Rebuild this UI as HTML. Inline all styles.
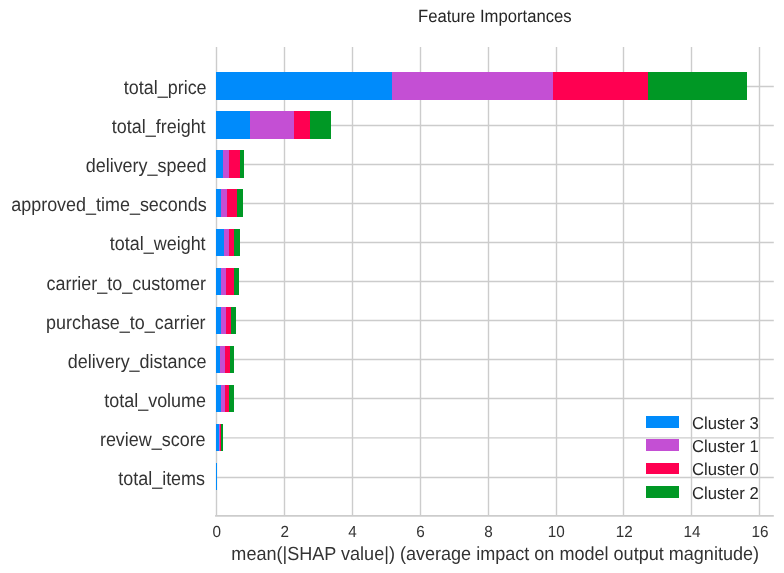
<!DOCTYPE html>
<html lang="en">
<head>
<meta charset="utf-8">
<title>Feature Importances</title>
<style>
html,body{margin:0;padding:0;background:#ffffff;}
body{width:784px;height:573px;overflow:hidden;}
svg{display:block;}
text{font-family:"Liberation Sans",Arial,sans-serif;text-rendering:geometricPrecision;}
.yl{font-size:18.06px;fill:#333333;text-anchor:end;}
.xt{font-size:15.28px;fill:#333333;text-anchor:middle;}
.xl{font-size:18.06px;fill:#333333;text-anchor:middle;}
.tt{font-size:16.67px;fill:#262626;text-anchor:middle;}
.lg{font-size:16.67px;fill:#262626;text-anchor:start;}
</style>
</head>
<body>
<svg width="784" height="573" viewBox="0 0 784 573">
<rect x="0" y="0" width="784" height="573" fill="#ffffff"/>
<g stroke="#cccccc" stroke-width="1.39" fill="none">
<line x1="216.5" y1="47" x2="216.5" y2="516"/>
<line x1="284.5" y1="47" x2="284.5" y2="516"/>
<line x1="352.5" y1="47" x2="352.5" y2="516"/>
<line x1="420.5" y1="47" x2="420.5" y2="516"/>
<line x1="488.5" y1="47" x2="488.5" y2="516"/>
<line x1="556.5" y1="47" x2="556.5" y2="516"/>
<line x1="623.5" y1="47" x2="623.5" y2="516"/>
<line x1="691.5" y1="47" x2="691.5" y2="516"/>
<line x1="759.5" y1="47" x2="759.5" y2="516"/>
<line x1="216" y1="86.5" x2="773.8" y2="86.5"/>
<line x1="216" y1="125.5" x2="773.8" y2="125.5"/>
<line x1="216" y1="164.5" x2="773.8" y2="164.5"/>
<line x1="216" y1="203.5" x2="773.8" y2="203.5"/>
<line x1="216" y1="242.5" x2="773.8" y2="242.5"/>
<line x1="216" y1="281.5" x2="773.8" y2="281.5"/>
<line x1="216" y1="320.5" x2="773.8" y2="320.5"/>
<line x1="216" y1="359.5" x2="773.8" y2="359.5"/>
<line x1="216" y1="398.5" x2="773.8" y2="398.5"/>
<line x1="216" y1="437.9" x2="773.8" y2="437.9"/>
<line x1="216" y1="477.5" x2="773.8" y2="477.5"/>
</g>
<line x1="215.1" y1="515.8" x2="773.8" y2="515.8" stroke="#cccccc" stroke-width="1.74"/>
<g shape-rendering="crispEdges">
<rect x="216" y="72" width="176" height="28" fill="#008bfb"/>
<rect x="392" y="72" width="161" height="28" fill="#c44fd4"/>
<rect x="553" y="72" width="95" height="28" fill="#ff0051"/>
<rect x="648" y="72" width="99" height="28" fill="#009825"/>
<rect x="216" y="111" width="34" height="28" fill="#008bfb"/>
<rect x="250" y="111" width="44" height="28" fill="#c44fd4"/>
<rect x="294" y="111" width="16" height="28" fill="#ff0051"/>
<rect x="310" y="111" width="21" height="28" fill="#009825"/>
<rect x="216" y="150" width="7" height="28" fill="#008bfb"/>
<rect x="223" y="150" width="6" height="28" fill="#c44fd4"/>
<rect x="229" y="150" width="11" height="28" fill="#ff0051"/>
<rect x="240" y="150" width="4" height="28" fill="#009825"/>
<rect x="216" y="189" width="5" height="28" fill="#008bfb"/>
<rect x="221" y="189" width="6" height="28" fill="#c44fd4"/>
<rect x="227" y="189" width="10" height="28" fill="#ff0051"/>
<rect x="237" y="189" width="6" height="28" fill="#009825"/>
<rect x="216" y="229" width="8" height="27" fill="#008bfb"/>
<rect x="224" y="229" width="5" height="27" fill="#c44fd4"/>
<rect x="229" y="229" width="5" height="27" fill="#ff0051"/>
<rect x="234" y="229" width="6" height="27" fill="#009825"/>
<rect x="216" y="268" width="5" height="27" fill="#008bfb"/>
<rect x="221" y="268" width="5" height="27" fill="#c44fd4"/>
<rect x="226" y="268" width="8" height="27" fill="#ff0051"/>
<rect x="234" y="268" width="5" height="27" fill="#009825"/>
<rect x="216" y="307" width="5" height="27" fill="#008bfb"/>
<rect x="221" y="307" width="5" height="27" fill="#c44fd4"/>
<rect x="226" y="307" width="5" height="27" fill="#ff0051"/>
<rect x="231" y="307" width="5" height="27" fill="#009825"/>
<rect x="216" y="346" width="4" height="27" fill="#008bfb"/>
<rect x="220" y="346" width="5" height="27" fill="#c44fd4"/>
<rect x="225" y="346" width="5" height="27" fill="#ff0051"/>
<rect x="230" y="346" width="4" height="27" fill="#009825"/>
<rect x="216" y="385" width="5" height="27" fill="#008bfb"/>
<rect x="221" y="385" width="4" height="27" fill="#c44fd4"/>
<rect x="225" y="385" width="4" height="27" fill="#ff0051"/>
<rect x="229" y="385" width="5" height="27" fill="#009825"/>
<rect x="216" y="424" width="3" height="27" fill="#008bfb"/>
<rect x="219" y="424" width="1" height="27" fill="#c44fd4"/>
<rect x="220" y="424" width="1" height="27" fill="#ff0051"/>
<rect x="221" y="424" width="2" height="27" fill="#009825"/>
<rect x="216" y="463" width="0.8" height="27" fill="#008bfb"/>
</g>
<text class="yl" transform="translate(206.60 94.00) scale(0.994 1.07)">total_price</text>
<text class="yl" transform="translate(205.60 133.00) scale(0.994 1.07)">total_freight</text>
<text class="yl" transform="translate(206.40 172.00) scale(0.994 1.07)">delivery_speed</text>
<text class="yl" transform="translate(206.70 211.00) scale(0.994 1.07)">approved_time_seconds</text>
<text class="yl" transform="translate(205.60 250.00) scale(0.994 1.07)">total_weight</text>
<text class="yl" transform="translate(206.00 290.00) scale(0.994 1.07)">carrier_to_customer</text>
<text class="yl" transform="translate(205.60 329.00) scale(0.994 1.07)">purchase_to_carrier</text>
<text class="yl" transform="translate(206.40 368.00) scale(0.994 1.07)">delivery_distance</text>
<text class="yl" transform="translate(206.00 407.00) scale(0.994 1.07)">total_volume</text>
<text class="yl" transform="translate(205.60 446.00) scale(0.994 1.07)">review_score</text>
<text class="yl" transform="translate(205.00 485.00) scale(0.994 1.07)">total_items</text>
<text class="xt" transform="translate(216.80 536.85) scale(1 1.05)">0</text>
<text class="xt" transform="translate(284.70 536.85) scale(1 1.05)">2</text>
<text class="xt" transform="translate(352.60 536.85) scale(1 1.05)">4</text>
<text class="xt" transform="translate(420.50 536.85) scale(1 1.05)">6</text>
<text class="xt" transform="translate(488.40 536.85) scale(1 1.05)">8</text>
<text class="xt" transform="translate(556.30 536.85) scale(1 1.05)">10</text>
<text class="xt" transform="translate(624.20 536.85) scale(1 1.05)">12</text>
<text class="xt" transform="translate(692.10 536.85) scale(1 1.05)">14</text>
<text class="xt" transform="translate(760.00 536.85) scale(1 1.05)">16</text>
<text class="xl" transform="translate(495.20 560.00) scale(1 1.05)">mean(|SHAP value|) (average impact on model output magnitude)</text>
<text class="tt" transform="translate(494.80 22.00) scale(1 1.065)">Feature Importances</text>
<rect x="646" y="416" width="33" height="12" fill="#008bfb" shape-rendering="crispEdges"/>
<text class="lg" transform="translate(692.00 428.70) scale(1 1.03)">Cluster 3</text>
<rect x="646" y="439" width="33" height="12" fill="#c44fd4" shape-rendering="crispEdges"/>
<text class="lg" transform="translate(692.00 452.05) scale(1 1.03)">Cluster 1</text>
<rect x="646" y="463" width="33" height="11" fill="#ff0051" shape-rendering="crispEdges"/>
<text class="lg" transform="translate(692.00 475.40) scale(1 1.03)">Cluster 0</text>
<rect x="646" y="486" width="33" height="12" fill="#009825" shape-rendering="crispEdges"/>
<text class="lg" transform="translate(692.00 498.75) scale(1 1.03)">Cluster 2</text>
</svg>
</body>
</html>
